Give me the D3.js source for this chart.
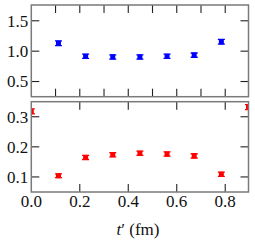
<!DOCTYPE html>
<html><head><meta charset="utf-8">
<script src="https://cdn.jsdelivr.net/npm/d3@7"></script>
<style>html,body{margin:0;padding:0;background:#fff;}svg{display:block;}
text{font-family:'Liberation Serif','Times New Roman','DejaVu Serif',serif;}</style>
</head><body>
<script>
// data
const tTop = [0.112, 0.224, 0.336, 0.448, 0.560, 0.672, 0.784];
const vTop = [1.13, 0.915, 0.905, 0.905, 0.915, 0.935, 1.155];
const eTop = [0.04, 0.035, 0.035, 0.035, 0.035, 0.035, 0.04];
const tBot = [0.0, 0.112, 0.224, 0.336, 0.448, 0.560, 0.672, 0.784, 0.896];
const vBot = [0.318, 0.104, 0.165, 0.174, 0.179, 0.176, 0.170, 0.109, 0.332];
const eBot = [0.008, 0.006, 0.007, 0.007, 0.007, 0.007, 0.007, 0.007, 0.008];
const topTicks = [0.5, 1.0, 1.5];
const botTicks = [0.1, 0.2, 0.3];
const xTicksLabel = [0.0, 0.2, 0.4, 0.6, 0.8];
const xTicksTop = [0.1, 0.2, 0.3, 0.4, 0.5, 0.6, 0.7, 0.8];

const W = 255, H = 246;
const L = 31.3, R = 248.5;
const svg = d3.select("body").append("svg").attr("width", W).attr("height", H);
const x = d3.scaleLinear().domain([0, 0.896]).range([L, R]);
const yT = d3.scaleLinear().domain([0.25, 1.76]).range([96.7, 5]);
const yB = d3.scaleLinear().domain([0.05, 0.35]).range([192, 101.7]);
const frameCol = "#7a7a7a", tickCol = "#222";
const TL = 8;

function panel(id, y, xt, yt, tv, vv, ev, col, labels) {
  const g = svg.append("g");
  const [y0, y1] = y.range();
  g.append("clipPath").attr("id", id).append("rect")
    .attr("x", L).attr("y", y1).attr("width", R - L).attr("height", y0 - y1);
  const tk = g.append("g").attr("stroke", tickCol).attr("stroke-width", 1.1);
  xt.forEach(v => {
    tk.append("line").attr("x1", x(v)).attr("x2", x(v)).attr("y1", y1).attr("y2", y1 + TL);
    tk.append("line").attr("x1", x(v)).attr("x2", x(v)).attr("y1", y0).attr("y2", y0 - TL);
  });
  yt.forEach(v => {
    tk.append("line").attr("x1", L).attr("x2", L + TL).attr("y1", y(v)).attr("y2", y(v));
    tk.append("line").attr("x1", R).attr("x2", R - TL).attr("y1", y(v)).attr("y2", y(v));
  });
  g.append("g").selectAll("text").data(yt).join("text")
    .attr("x", L - 3).attr("y", d => y(d)).attr("dy", "0.35em")
    .attr("text-anchor", "end").attr("font-size", 17)
    .attr("fill", "#111").text(d => d.toFixed(1));
  const pg = g.append("g").attr("clip-path", `url(#${id})`);
  tv.forEach((t, i) => {
    const cx = x(t), cy = y(vv[i]), ya = y(vv[i] + ev[i]), yb = y(vv[i] - ev[i]);
    pg.append("line").attr("x1", cx).attr("x2", cx).attr("y1", ya).attr("y2", yb)
      .attr("stroke", col).attr("stroke-width", 1.5);
    [ya, yb].forEach(yy => pg.append("line").attr("x1", cx - 3.5).attr("x2", cx + 3.5)
      .attr("y1", yy).attr("y2", yy).attr("stroke", col).attr("stroke-width", 1.3));
    pg.append("rect").attr("x", cx - 2.5).attr("y", cy - 2.5).attr("width", 5).attr("height", 5)
      .attr("fill", col);
  });
  g.append("rect").attr("x", L).attr("y", y1).attr("width", R - L).attr("height", y0 - y1)
    .attr("fill", "none").attr("stroke", frameCol).attr("stroke-width", 1.5);
  if (labels) {
    g.append("g").selectAll("text").data(xTicksLabel).join("text")
      .attr("x", d => x(d)).attr("y", 207)
      .attr("text-anchor", "middle").attr("font-size", 17)
      .attr("fill", "#111").text(d => d.toFixed(1));
  }
}
panel("cT", yT, xTicksTop, topTicks, tTop, vTop, eTop, "#0000ff", false);
panel("cB", yB, xTicksLabel.slice(1), botTicks, tBot, vBot, eBot, "#ff0000", true);

const lab = svg.append("text").attr("x", 138).attr("y", 235)
  .attr("text-anchor", "middle").attr("font-size", 17).attr("fill", "#111");
lab.append("tspan").attr("font-style", "italic").text("t");
lab.append("tspan").text("\u2032 (fm)");
</script>
</body></html>
